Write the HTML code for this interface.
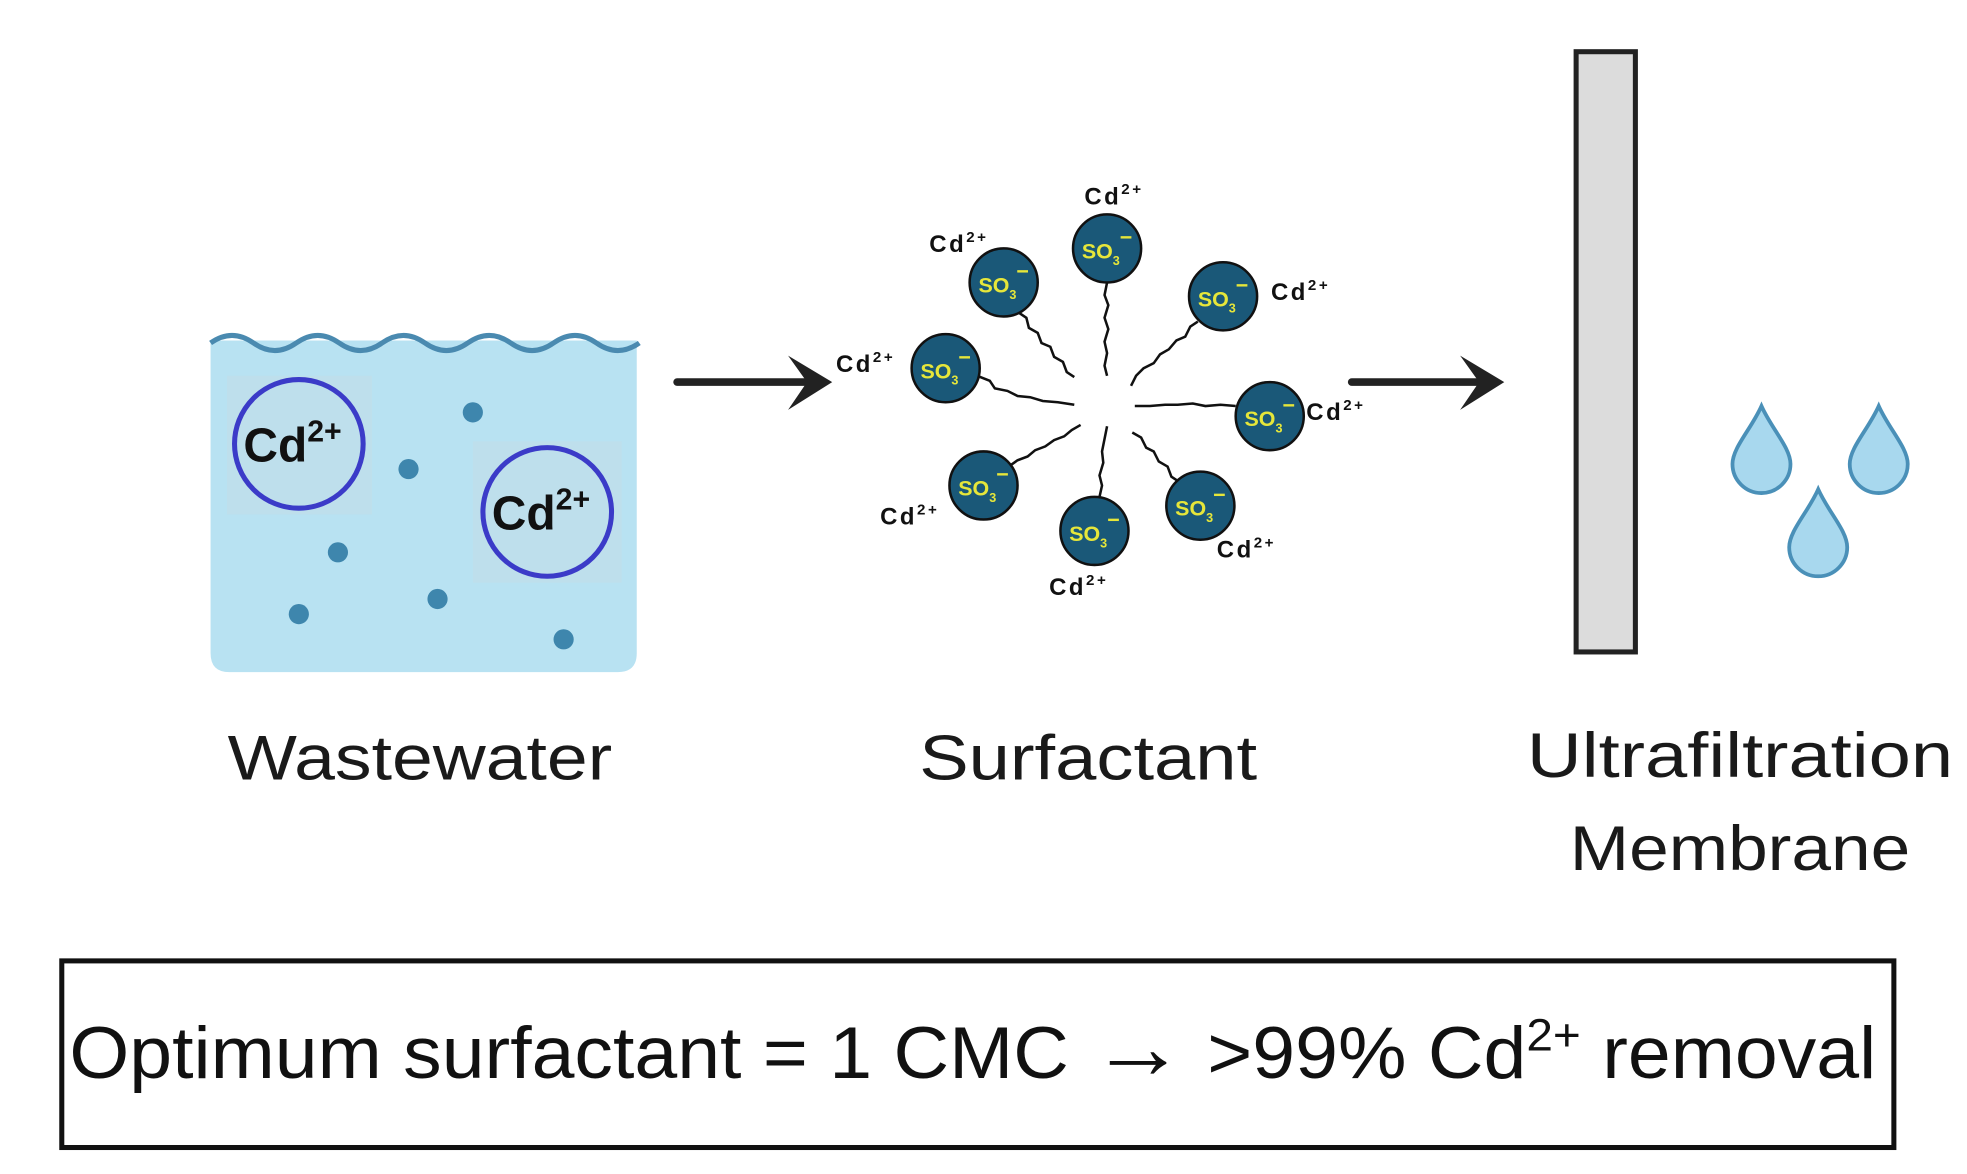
<!DOCTYPE html>
<html><head><meta charset="utf-8"><style>
html,body{margin:0;padding:0;background:#fff;}
svg{display:block;}
</style></head><body>
<svg width="1967" height="1174" viewBox="0 0 1560 931" preserveAspectRatio="none" xmlns="http://www.w3.org/2000/svg" font-family="Liberation Sans, sans-serif">
<rect width="1560" height="931" fill="#fff"/>
<!-- tank -->
<path d="M167 270 H505 V518 Q505 533 490 533 H182 Q167 533 167 518 Z" fill="#b8e2f2"/>
<path d="M167 272 q17 -12 34 0 t34 0 t34 0 t34 0 t34 0 t34 0 t34 0 t34 0 t34 0 t34 0" fill="none" stroke="#4a8ab0" stroke-width="4"/>
<rect x="180" y="298" width="115" height="110" fill="#c2dde8" opacity="0.6"/>
<rect x="375" y="350" width="118" height="112" fill="#c2dde8" opacity="0.6"/>
<circle cx="237" cy="352" r="51" fill="none" stroke="#3b3bc8" stroke-width="4"/>
<circle cx="434" cy="406" r="51" fill="none" stroke="#3b3bc8" stroke-width="4"/>
<text x="193" y="366" font-size="38" font-weight="bold" fill="#111">Cd<tspan font-size="24" dy="-16">2+</tspan></text>
<text x="390" y="420" font-size="38" font-weight="bold" fill="#111">Cd<tspan font-size="24" dy="-16">2+</tspan></text>
<g fill="#3e86ad">
<circle cx="375" cy="327" r="8"/><circle cx="324" cy="372" r="8"/><circle cx="268" cy="438" r="8"/>
<circle cx="347" cy="475" r="8"/><circle cx="237" cy="487" r="8"/><circle cx="447" cy="507" r="8"/>
</g>
<!-- arrows -->
<g stroke="#222" stroke-width="6" fill="none" stroke-linecap="round">
<line x1="537" y1="303" x2="650" y2="303"/>
<line x1="1072" y1="303" x2="1184" y2="303"/>
</g>
<path d="M625 282 L660 303 L625 325 L640 303 Z" fill="#222"/>
<path d="M1158 282 L1193 303 L1158 325 L1173 303 Z" fill="#222"/>
<!-- micelle tails -->
<g stroke="#111" stroke-width="2" fill="none">
<path d="M878 224 l-2 10 l3 8 l-3 10 l3 9 l-3 10 l2 9 l-2 10 l2 8"/>
<path d="M808 248 l6 4 l2 8 l7 4 l3 8 l7 3 l3 8 l7 4 l3 8 l6 4"/>
<path d="M950 255 l-6 4 l-4 8 l-7 3 l-6 7 l-7 4 l-5 7 l-8 4 l-6 6 l-4 8"/>
<path d="M775 298 l10 4 l4 6 l10 2 l8 4 l10 1 l10 3 l12 1 l13 2"/>
<path d="M980 322 l-12 -1 l-12 1 l-10 -2 l-12 1 l-10 0 l-12 1 l-12 0"/>
<path d="M800 370 l7 -5 l8 -3 l6 -5 l8 -3 l7 -5 l8 -3 l6 -5 l7 -4"/>
<path d="M872 394 l2 -9 l-2 -8 l3 -10 l-1 -9 l2 -10 l2 -10"/>
<path d="M935 382 l-6 -4 l-3 -8 l-7 -4 l-4 -8 l-6 -3 l-4 -8 l-7 -4"/>
</g>
<!-- heads -->
<g fill="#1a5878" stroke="#111" stroke-width="2">
<circle cx="878" cy="197" r="27"/><circle cx="796" cy="224" r="27"/><circle cx="970" cy="235" r="27"/>
<circle cx="750" cy="292" r="27"/><circle cx="1007" cy="330" r="27"/><circle cx="780" cy="385" r="27"/>
<circle cx="868" cy="421" r="27"/><circle cx="952" cy="401" r="27"/>
</g>
<g fill="#e6e63a" font-size="17" font-weight="bold">
<text x="858" y="205">SO<tspan font-size="10" dy="5">3</tspan><tspan dy="-16">−</tspan></text>
<text x="776" y="232">SO<tspan font-size="10" dy="5">3</tspan><tspan dy="-16">−</tspan></text>
<text x="950" y="243">SO<tspan font-size="10" dy="5">3</tspan><tspan dy="-16">−</tspan></text>
<text x="730" y="300">SO<tspan font-size="10" dy="5">3</tspan><tspan dy="-16">−</tspan></text>
<text x="987" y="338">SO<tspan font-size="10" dy="5">3</tspan><tspan dy="-16">−</tspan></text>
<text x="760" y="393">SO<tspan font-size="10" dy="5">3</tspan><tspan dy="-16">−</tspan></text>
<text x="848" y="429">SO<tspan font-size="10" dy="5">3</tspan><tspan dy="-16">−</tspan></text>
<text x="932" y="409">SO<tspan font-size="10" dy="5">3</tspan><tspan dy="-16">−</tspan></text>
</g>
<g fill="#111" font-size="19" font-weight="bold" letter-spacing="2">
<text x="860" y="162">Cd<tspan font-size="12" dy="-8">2+</tspan></text>
<text x="737" y="200">Cd<tspan font-size="12" dy="-8">2+</tspan></text>
<text x="1008" y="238">Cd<tspan font-size="12" dy="-8">2+</tspan></text>
<text x="663" y="295">Cd<tspan font-size="12" dy="-8">2+</tspan></text>
<text x="1036" y="333">Cd<tspan font-size="12" dy="-8">2+</tspan></text>
<text x="698" y="416">Cd<tspan font-size="12" dy="-8">2+</tspan></text>
<text x="832" y="472">Cd<tspan font-size="12" dy="-8">2+</tspan></text>
<text x="965" y="442">Cd<tspan font-size="12" dy="-8">2+</tspan></text>
</g>
<!-- membrane -->
<rect x="1250" y="41" width="47" height="476" fill="#dcdcdc" stroke="#222" stroke-width="4"/>
<!-- drops -->
<g fill="#a8d8ee" stroke="#4a90b8" stroke-width="3">
<path d="M1397 322 C1405 340 1420 355 1420 368 A23 23 0 0 1 1374 368 C1374 355 1389 340 1397 322 Z"/>
<path d="M1490 322 C1498 340 1513 355 1513 368 A23 23 0 0 1 1467 368 C1467 355 1482 340 1490 322 Z"/>
<path d="M1442 388 C1450 406 1465 421 1465 434 A23 23 0 0 1 1419 434 C1419 421 1434 406 1442 388 Z"/>
</g>
<!-- labels -->
<g fill="#1a1a1a" font-size="50" text-anchor="middle">
<text x="333" y="618" textLength="305" lengthAdjust="spacingAndGlyphs">Wastewater</text>
<text x="863" y="618" textLength="268" lengthAdjust="spacingAndGlyphs">Surfactant</text>
<text x="1380" y="616" textLength="338" lengthAdjust="spacingAndGlyphs">Ultrafiltration</text>
<text x="1380" y="690" textLength="270" lengthAdjust="spacingAndGlyphs">Membrane</text>
</g>
<rect x="49" y="762" width="1453" height="148" fill="none" stroke="#111" stroke-width="4"/>
<text x="55" y="855" font-size="58" fill="#111" textLength="1433" lengthAdjust="spacingAndGlyphs">Optimum surfactant = 1 CMC <tspan font-size="72">→</tspan> &gt;99% Cd<tspan font-size="36" dy="-22">2+</tspan><tspan dy="22"> removal</tspan></text>
</svg>
</body></html>
